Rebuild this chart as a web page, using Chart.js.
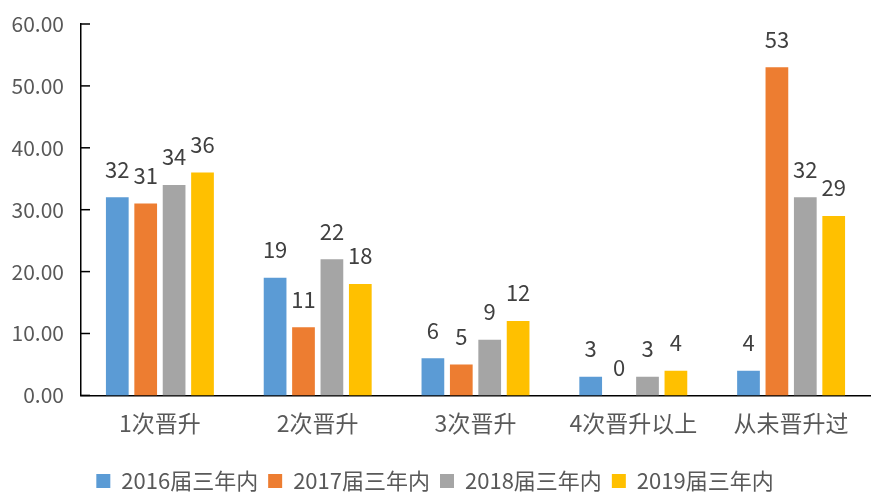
<!DOCTYPE html>
<html>
<head>
<meta charset="utf-8">
<script src="https://cdn.jsdelivr.net/npm/chart.js@4"></script>
<style>
    html, body { margin: 0; padding: 0; background: #fff; }
    #wrap { width: 875px; height: 493px; position: relative; }
</style>
</head>
<body>
<div id="wrap"><canvas id="myChart"></canvas></div>
<script>
const categories = ['1次晋升', '2次晋升', '3次晋升', '4次晋升以上', '从未晋升过'];
const series_names = ['2016届三年内', '2017届三年内', '2018届三年内', '2019届三年内'];
const values_2016 = [32, 19, 6, 3, 4];
const values_2017 = [31, 11, 5, 0, 53];
const values_2018 = [34, 22, 9, 3, 32];
const values_2019 = [36, 18, 12, 4, 29];
const y_ticks = [0, 10, 20, 30, 40, 50, 60];

const colors = ['#5B9BD5', '#ED7D31', '#A5A5A5', '#FFC000'];
const font_family = '"Noto Sans CJK SC", "Noto Sans", sans-serif';
const text_color = '#595959';

// value labels over the bars
const barLabels = {
    id: 'barLabels',
    afterDatasetsDraw(chart) {
        let ctx = chart.ctx;
        ctx.save();
        ctx.font = '22px ' + font_family;
        ctx.fillStyle = '#404040';
        ctx.textAlign = 'center';
        ctx.textBaseline = 'middle';
        chart.data.datasets.forEach((ds, i) => {
            chart.getDatasetMeta(i).data.forEach((bar, j) => {
                ctx.fillText(String(ds.data[j]), bar.x, bar.y - 28);
            });
        });
        ctx.restore();
    }
};

// short tick marks on the inside of the y axis
const innerTicks = {
    id: 'innerTicks',
    afterDraw(chart) {
        let ctx = chart.ctx;
        let y = chart.scales.y;
        ctx.save();
        ctx.strokeStyle = '#000';
        ctx.lineWidth = 1.5;
        for (let v of y_ticks) {
            let py = y.getPixelForValue(v);
            ctx.beginPath();
            ctx.moveTo(y.right, py);
            ctx.lineTo(y.right + 9, py);
            ctx.stroke();
        }
        ctx.restore();
    }
};

let ctx = document.getElementById('myChart').getContext('2d');

new Chart(ctx, {
    type: 'bar',
    data: {
        labels: categories,
        datasets: [values_2016, values_2017, values_2018, values_2019].map((d, i) => ({
            label: series_names[i],
            data: d,
            backgroundColor: colors[i],
            borderWidth: 0,
            categoryPercentage: 0.72,
            barPercentage: 0.8
        }))
    },
    options: {
        responsive: true,
        maintainAspectRatio: false,
        animation: false,
        layout: {
            padding: { left: 0, right: 5, top: 24, bottom: -9 }
        },
        plugins: {
            tooltip: { enabled: false },
            legend: {
                position: 'bottom',
                labels: {
                    boxWidth: 14,
                    boxHeight: 14,
                    padding: 10,
                    color: text_color,
                    font: { family: font_family, size: 22 }
                }
            }
        },
        scales: {
            x: {
                grid: { display: false, drawTicks: false },
                border: { color: '#000', width: 1.5 },
                afterFit(axis) {
                    axis.height += 9;
                },
                ticks: {
                    color: text_color,
                    padding: 14,
                    font: { family: font_family, size: 23 }
                }
            },
            y: {
                min: 0,
                max: 60,
                afterBuildTicks(axis) {
                    axis.ticks = y_ticks.map(v => ({ value: v }));
                },
                afterFit(axis) {
                    axis.width = 81;
                    axis.paddingTop = 0;
                    axis.paddingBottom = 0;
                },
                grid: { display: false, drawTicks: false },
                border: { color: '#000', width: 1.5 },
                ticks: {
                    color: text_color,
                    padding: 17,
                    font: { family: font_family, size: 21 },
                    callback: v => v.toFixed(2)
                }
            }
        }
    },
    plugins: [barLabels, innerTicks]
});
</script>
</body>
</html>
